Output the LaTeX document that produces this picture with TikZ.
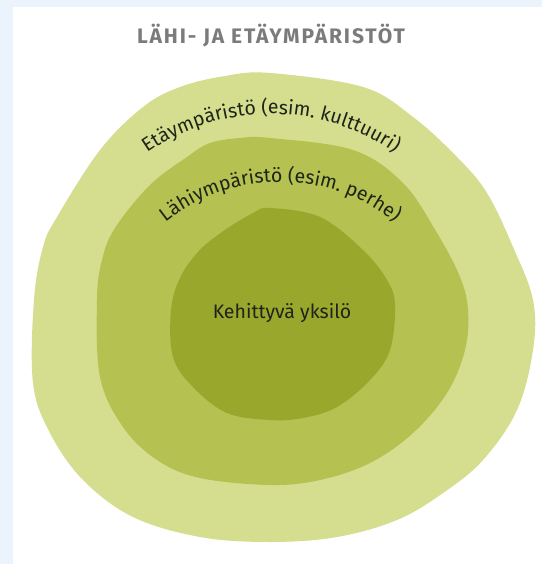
\documentclass[tikz,border=0pt]{standalone}
\usepackage{fontspec}
\setmainfont{Fira Sans}
\newfontfamily\titlefont[LetterSpace=9]{Fira Sans}
\usepackage{tikz}
\usetikzlibrary{calc,decorations.text}
\usepackage{xcolor}
\definecolor{outergreen}{HTML}{D5DE8E}
\definecolor{midgreen}{HTML}{B5C150}
\definecolor{innergreen}{HTML}{9AA72D}
\definecolor{titlegray}{HTML}{7B7B7B}
\definecolor{labelink}{HTML}{1E2418}
\definecolor{edgeblue}{HTML}{EBF4FD}

\begin{document}
\begin{tikzpicture}[x=1pt,y=-1pt,
  blob/.style={smooth cycle,tension=0.6},
  labelfont/.style={font=\fontsize{19.5}{22}\selectfont,text=labelink},
  ringtext/.style={decorate,decoration={text along path,text align=center,
    text={|\fontsize{19.5}{22}\selectfont\color{labelink}|#1}}}]
\useasboundingbox (0,0) rectangle (542,564);
% backdrop
\fill[edgeblue] (0,0) rectangle (542,564);
\fill[white] (13,7) rectangle (542,564);
% rings
\fill[outergreen] plot[blob] coordinates {(270,73) (363,87) (413,117) (457,157)
  (487,193) (513,247) (533,300) (533,350) (517,410) (483,460) (443,493)
  (397,520) (337,537) (270,542) (200,537) (133,517) (83,480) (50,433)
  (33,383) (34,300) (43,247) (57,217) (100,150) (143,107) (180,87) (225,76)};
\fill[midgreen] plot[blob] coordinates {(270,138) (353,150) (403,183) (437,233)
  (460,277) (468,310) (465,350) (447,393) (413,433) (370,463) (320,480)
  (270,485) (200,478) (157,460) (123,427) (100,377) (97,300) (102,260)
  (115,228) (150,185) (187,157) (210,143) (240,138)};
\fill[innergreen] plot[blob] coordinates {(270,208) (320,217) (363,250)
  (387,280) (395,305) (390,350) (370,380) (337,407) (303,418) (270,420)
  (227,413) (193,387) (173,357) (171,310) (180,278) (198,252) (222,232)
  (253,213)};
% labels
\coordinate (farc) at (271,330);
\coordinate (narc) at (280,366);
\path[ringtext={Etäympäristö (esim. kulttuuri)}]
  ($(farc)+(-130:216)$) arc[start angle=-130,end angle=-50,radius=216];
\path[ringtext={Lähiympäristö (esim. perhe)}]
  ($(narc)+(-132:184)$) arc[start angle=-132,end angle=-48,radius=184];
\node[labelfont,anchor=base] (core) at (282,318) {Kehittyvä yksilö};
\node[font=\titlefont\bfseries\fontsize{21}{24}\selectfont,text=titlegray] (title)
  at (271,36) {LÄHI- JA ETÄYMPÄRISTÖT};
\end{tikzpicture}
\end{document}
